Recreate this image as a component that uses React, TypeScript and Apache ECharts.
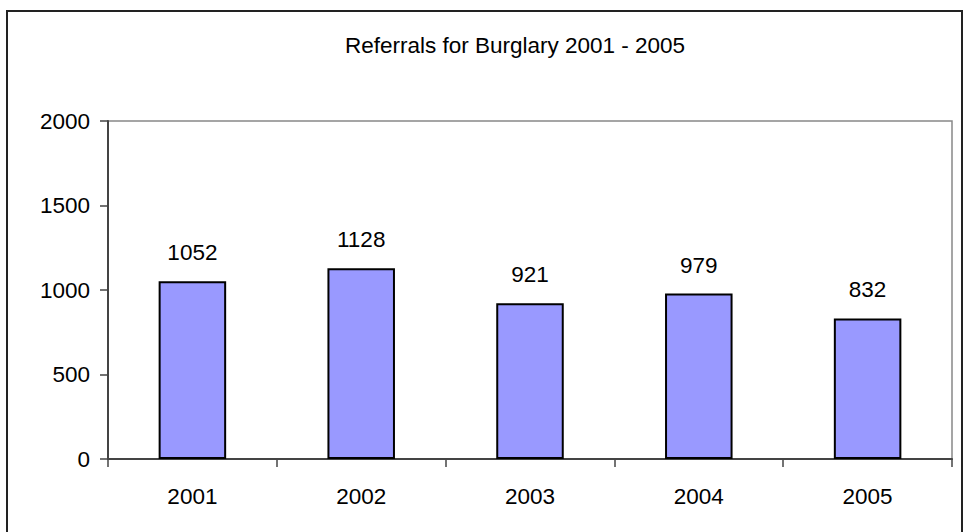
import React, { useEffect, useRef } from "react";
import * as echarts from "echarts";

const TITLE = "Referrals for Burglary 2001 - 2005";
const categories = ["2001", "2002", "2003", "2004", "2005"];
const referrals = [1052, 1128, 921, 979, 832];
const yTicks = { min: 0, max: 2000, interval: 500 };

export default function App() {
  const ref = useRef<HTMLDivElement>(null);
  useEffect(() => {
    if (!ref.current) return;
    const chart = echarts.init(ref.current, null, { renderer: "svg" });
    const font = "'Liberation Sans', Arial, sans-serif";
    const fs = 22.5;
    chart.setOption({
      animation: false,
      backgroundColor: "#ffffff",
      title: {
        text: TITLE,
        left: 510,
        textAlign: "center",
        top: 29,
        textStyle: { fontFamily: font, fontSize: fs, fontWeight: "normal", color: "#000" },
      },
      graphic: [
        {
          type: "rect",
          shape: { x: 7, y: 11, width: 955, height: 530 },
          style: { fill: "none", stroke: "#222", lineWidth: 2 },
          silent: true,
        },
      ],
      grid: {
        left: 108,
        right: 11,
        top: 121,
        bottom: 73,
        show: true,
        borderColor: "#888",
        borderWidth: 1.5,
        backgroundColor: "transparent",
      },
      xAxis: {
        type: "category",
        data: categories,
        boundaryGap: true,
        axisLine: { show: true, lineStyle: { color: "#444", width: 2 } },
        axisTick: { show: true, length: 8, alignWithLabel: false, lineStyle: { color: "#444", width: 1.5 } },
        axisLabel: { margin: 26, fontFamily: font, fontSize: fs, color: "#000" },
        splitLine: { show: false },
      },
      yAxis: {
        type: "value",
        min: yTicks.min,
        max: yTicks.max,
        interval: yTicks.interval,
        axisLine: { show: true, lineStyle: { color: "#444", width: 2 } },
        axisTick: { show: true, length: 8, lineStyle: { color: "#444", width: 1.5 } },
        axisLabel: {
          margin: 18,
          fontFamily: font,
          fontSize: fs,
          color: "#000",
          formatter: (v: number) => String(v),
        },
        splitLine: { show: false },
      },
      series: [
        {
          type: "bar",
          data: referrals,
          barWidth: "40%",
          itemStyle: { color: "#9999FF", borderColor: "#000", borderWidth: 2 },
          label: {
            show: true,
            position: "top",
            distance: 17,
            fontFamily: font,
            fontSize: fs,
            color: "#000",
          },
        },
      ],
    });
    return () => chart.dispose();
  }, []);
  return (
    <div
      ref={ref}
      style={{ position: "fixed", left: 0, top: 0, width: 963, height: 532 }}
    />
  );
}
